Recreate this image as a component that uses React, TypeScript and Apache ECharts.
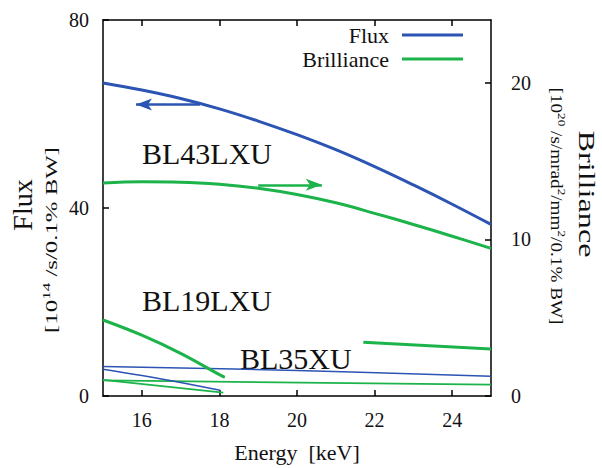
import React, { useEffect, useRef } from 'react';
import * as echarts from 'echarts';

// ---- data ----
const energy = [15, 16, 17, 18, 19, 20, 21, 22, 23, 24, 25];
const bl43Flux = [66.6, 65.1, 63.3, 61.1, 58.5, 55.6, 52.4, 48.8, 44.9, 40.8, 36.5];
const bl43Brill = [13.59, 13.67, 13.65, 13.52, 13.26, 12.86, 12.33, 11.66, 10.95, 10.2, 9.42];

const bl19BrillE = [15, 16, 17, 18, 18.14];
const bl19Brill = [4.85, 3.88, 2.72, 1.36, 1.19];
const bl19FluxE = [15, 16, 17, 18.02];
const bl19Flux = [5.7, 4.35, 2.85, 1.2];
const bl19ThinE = [15, 18.1];
const bl19Thin = [1.03, 0.21];

const bl35FluxE = [15, 20, 25];
const bl35Flux = [6.3, 5.45, 4.2];
const bl35ThinE = [15, 25];
const bl35Thin = [1.0, 0.72];
const bl35BrillE = [21.71, 25];
const bl35Brill = [3.43, 3.0];

const fluxArrow = [[17.5, 62.0], [15.85, 62.0]];
const brillArrow = [[19.0, 13.48], [20.64, 13.48]];

const xTicks = [16, 18, 20, 22, 24];
const fluxTicks = [0, 40, 80];
const brillTicks = [0, 10, 20];

const BLUE = '#2c54b4';
const GREEN = '#1cb34a';
const SERIF = 'Liberation Serif';

const pairs = (xs: number[], ys: number[]) => xs.map((x, i) => [x, ys[i]]);

export default function App() {
  const ref = useRef<HTMLDivElement>(null);
  useEffect(() => {
    document.body.style.margin = '0';
    if (!ref.current) return;
    const chart = echarts.init(ref.current, undefined, { renderer: 'svg' });
    const axisLine = { show: true, onZero: false, lineStyle: { color: '#000', width: 1.5 } };
    const tick = (vals: number[]) => ({
      show: true, inside: true, length: 6, customValues: vals,
      lineStyle: { color: '#000', width: 1.5 },
    });
    const label = (vals: number[], margin: number) => ({
      show: true, customValues: vals, margin,
      fontFamily: SERIF, fontSize: 20, color: '#111',
    });
    const line = (name: string, data: number[][], color: string, width: number, yAxisIndex: number, extra: any = {}) => ({
      name, type: 'line', data, yAxisIndex, xAxisIndex: 0,
      symbol: 'none', showSymbol: false, smooth: 0.4,
      lineStyle: { color, width }, itemStyle: { color }, silent: true,
      ...extra,
    });
    const arrow = (pts: number[][], color: string) => ({
      silent: true, symbol: ['none', 'arrow'], symbolSize: [9, 16],
      label: { show: false },
      lineStyle: { color, width: 2.5, type: 'solid' },
      data: [[{ coord: pts[0] }, { coord: pts[1] }]],
    });
    chart.setOption({
      animation: false,
      backgroundColor: '#fff',
      textStyle: { fontFamily: SERIF },
      grid: { left: 103, right: 111, top: 20, bottom: 70, containLabel: false },
      legend: {
        data: ['Flux', 'Brilliance'],
        orient: 'vertical', align: 'right', right: 134, top: 19,
        icon: 'rect', itemWidth: 61, itemHeight: 3, itemGap: 2,
        textStyle: { fontFamily: SERIF, fontSize: 22, color: '#111', padding: [0, 8, 0, 0], lineHeight: 20 },
      },
      xAxis: [
        {
          type: 'value', min: 15, max: 25, position: 'bottom',
          axisLine, axisTick: tick(xTicks), axisLabel: label(xTicks, 14), splitLine: { show: false },
          name: 'Energy  [keV]', nameLocation: 'middle', nameGap: 45,
          nameTextStyle: { fontFamily: SERIF, fontSize: 22, color: '#111' },
        },
        {
          type: 'value', min: 15, max: 25, position: 'top',
          axisLine, axisTick: tick(xTicks), axisLabel: { show: false }, splitLine: { show: false },
        },
      ],
      yAxis: [
        {
          type: 'value', min: 0, max: 80, position: 'left',
          axisLine, axisTick: tick(fluxTicks), axisLabel: label(fluxTicks, 14), splitLine: { show: false },
        },
        {
          type: 'value', min: 0, max: 24, position: 'right',
          axisLine, axisTick: tick(brillTicks), axisLabel: label(brillTicks, 20), splitLine: { show: false },
        },
      ],
      series: [
        line('BL35XU flux', pairs(bl35FluxE, bl35Flux), BLUE, 1.5, 0),
        line('BL35XU thin', pairs(bl35ThinE, bl35Thin), GREEN, 1.8, 1),
        line('BL19LXU flux', pairs(bl19FluxE, bl19Flux), BLUE, 1.5, 0),
        line('BL19LXU thin', pairs(bl19ThinE, bl19Thin), GREEN, 1.8, 1),
        line('BL19LXU brilliance', pairs(bl19BrillE, bl19Brill), GREEN, 3, 1),
        line('BL35XU brilliance', pairs(bl35BrillE, bl35Brill), GREEN, 3, 1),
        line('Flux', pairs(energy, bl43Flux), BLUE, 3, 0, { markLine: arrow(fluxArrow, BLUE) }),
        line('Brilliance', pairs(energy, bl43Brill), GREEN, 3, 1, { markLine: arrow(brillArrow, GREEN) }),
      ],
      graphic: [
        { type: 'text', x: 142, y: 153, style: { text: 'BL43LXU', fontFamily: SERIF, fontSize: 30, fill: '#111', align: 'left', verticalAlign: 'middle' } },
        { type: 'text', x: 142, y: 300, style: { text: 'BL19LXU', fontFamily: SERIF, fontSize: 30, fill: '#111', align: 'left', verticalAlign: 'middle' } },
        { type: 'text', x: 240, y: 358, style: { text: 'BL35XU', fontFamily: SERIF, fontSize: 30, fill: '#111', align: 'left', verticalAlign: 'middle' } },
        { type: 'text', x: 22, y: 205, rotation: Math.PI / 2, style: { text: 'Flux', fontFamily: SERIF, fontSize: 28, fill: '#111', align: 'center', verticalAlign: 'middle' } },
        {
          type: 'text', x: 52, y: 240, rotation: Math.PI / 2, scaleX: 1.55,
          style: {
            text: '{a|[10}{s|14}{a| /s/0.1% BW]}', align: 'center', verticalAlign: 'middle', fill: '#111',
            rich: {
              a: { fontFamily: SERIF, fontSize: 16, lineHeight: 22, fill: '#111' },
              s: { fontFamily: SERIF, fontSize: 11, lineHeight: 22, verticalAlign: 'top', fill: '#111' },
            },
          },
        },
        { type: 'text', x: 587, y: 194, rotation: -Math.PI / 2, scaleX: 1.4, style: { text: 'Brilliance', fontFamily: SERIF, fontSize: 23, fill: '#111', align: 'center', verticalAlign: 'middle' } },
        {
          type: 'text', x: 556, y: 206, rotation: -Math.PI / 2, scaleX: 1.2,
          style: {
            text: '{a|[10}{s|20}{a| /s/mrad}{s|2}{a|/mm}{s|2}{a|/0.1% BW]}', align: 'center', verticalAlign: 'middle', fill: '#111',
            rich: {
              a: { fontFamily: SERIF, fontSize: 16, lineHeight: 22, fill: '#111' },
              s: { fontFamily: SERIF, fontSize: 11, lineHeight: 22, verticalAlign: 'top', fill: '#111' },
            },
          },
        },
      ],
    });
    return () => chart.dispose();
  }, []);
  return <div ref={ref} style={{ width: 602, height: 468 }} />;
}
